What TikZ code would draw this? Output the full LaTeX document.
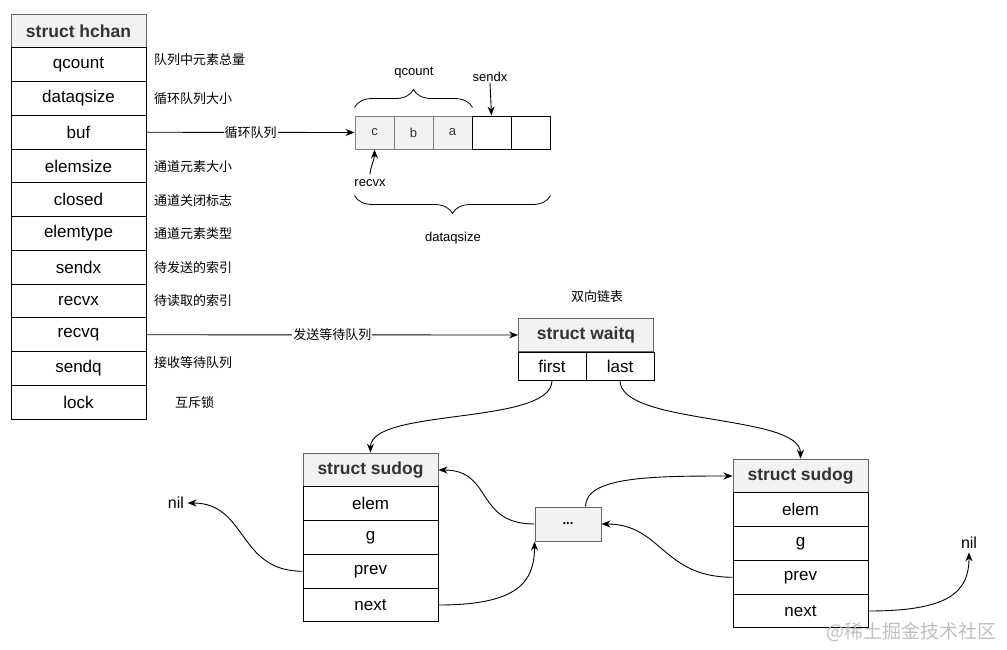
\documentclass[tikz,border=0pt]{standalone}
\usepackage{fontspec}
\setmainfont{Liberation Sans}
\newfontfamily\cjk{Noto Sans CJK SC}
\usetikzlibrary{arrows.meta, decorations.pathreplacing}

\tikzset{
	field/.style={draw, line width=1pt, minimum width=135, minimum height=33.75, inner sep=0, font=\fontsize{17}{20}\selectfont},
	head/.style={field, draw=black!60, fill=black!5, text=black!80, font=\fontsize{17.5}{20}\selectfont\bfseries},
	note/.style={anchor=west, inner sep=0, font=\cjk\fontsize{13}{15}\selectfont},
	lbl/.style={inner sep=1, font=\fontsize{13}{15}\selectfont},
	cell/.style={draw, line width=1pt, minimum width=39, minimum height=33, inner sep=0, font=\fontsize{13}{15}\selectfont},
	used/.style={cell, draw=black!50, fill=black!5, text=black!80},
	link/.style={line width=0.9pt, -{Stealth[length=9pt, width=7pt]}},
	brc/.style={line width=0.8pt, decorate, decoration={brace, amplitude=18}},
}

\begin{document}
\begin{tikzpicture}[x=1pt, y=-1pt]
		\useasboundingbox (0,0) rectangle (1007,649);

		% hchan
		\node[head] (hchan) at (78.5, 31) {struct hchan};
		\node[field] (qcount) at (78.5, 64.75) {qcount};
		\node[field] (dataqsize) at (78.5, 98.5) {dataqsize};
		\node[field] (buf) at (78.5, 132.25) {buf};
		\node[field] (elemsize) at (78.5, 166) {elemsize};
		\node[field] (closed) at (78.5, 199.75) {closed};
		\node[field] (elemtype) at (78.5, 233.5) {elemtype};
		\node[field] (sendx) at (78.5, 267.25) {sendx};
		\node[field] (recvx) at (78.5, 301) {recvx};
		\node[field] (recvq) at (78.5, 334.75) {recvq};
		\node[field] (sendq) at (78.5, 368.5) {sendq};
		\node[field] (lock) at (78.5, 402.25) {lock};

		\node[note] (n1) at (154, 60) {队列中元素总量};
		\node[note] (n2) at (154, 99) {循环队列大小};
		\node[note] (n3) at (154, 167) {通道元素大小};
		\node[note] (n4) at (154, 201) {通道关闭标志};
		\node[note] (n5) at (154, 234) {通道元素类型};
		\node[note] (n6) at (154, 268) {待发送的索引};
		\node[note] (n7) at (154, 301) {待读取的索引};
		\node[note] (n8) at (154, 363) {接收等待队列};
		\node[note] (n9) at (175, 403) {互斥锁};

		% buffer
		\node[used] (c1) at (374.5, 132.5) {c};
		\node[used] (c2) at (413.5, 132.5) {b};
		\node[used] (c3) at (452.5, 132.5) {a};
		\node[cell] (c4) at (491.5, 132.5) {};
		\node[cell] (c5) at (530.5, 132.5) {};

		\draw[link] (buf.east) -- node[fill=white, inner sep=1, font=\cjk\fontsize{13}{15}\selectfont] (bufl) {循环队列} (c1.west);

		\draw[brc] ([yshift=8]c1.north west) -- ([yshift=8]c3.north east);
		\node[lbl] (qcountl) at (414, 73) {qcount};
		\node[lbl] (sendxl) at (490, 77) {sendx};
		\draw[link] (sendxl.south) -- (c4.north);
		\node[lbl] (recvxl) at (370, 183) {recvx};
		\draw[link, shorten <=4pt] (recvxl.north) .. controls +(0,-10) and +(0,10) .. (c1.south);
		\draw[brc] ([yshift=-46]c5.south east) -- ([yshift=-46]c1.south west);
		\node[lbl] (dataqsizel) at (453, 238) {dataqsize};

		% waitq
		\node[inner sep=1, font=\cjk\fontsize{13}{15}\selectfont] (dll) at (597, 297) {双向链表};
		\node[head] (waitq) at (586, 335) {struct waitq};
		\node[field, minimum width=68, minimum height=28] (first) at (552, 366) {first};
		\node[field, minimum width=68, minimum height=28] (last) at (620, 366) {last};

		\draw[link] (recvq.east) -- node[fill=white, inner sep=1, font=\cjk\fontsize{13}{15}\selectfont] (recvql) {发送等待队列} (waitq.west);

		% sudog
		\node[head] (sd1) at (370.5, 470) {struct sudog};
		\node[field] (elem1) at (370.5, 503.75) {elem};
		\node[field] (g1) at (370.5, 537.5) {g};
		\node[field] (prev1) at (370.5, 571.25) {prev};
		\node[field] (next1) at (370.5, 605) {next};

		\node[head] (sd2) at (800.5, 476) {struct sudog};
		\node[field] (elem2) at (800.5, 509.75) {elem};
		\node[field] (g2) at (800.5, 543.5) {g};
		\node[field] (prev2) at (800.5, 577.25) {prev};
		\node[field] (next2) at (800.5, 611) {next};

		\node[draw=black!60, fill=black!5, line width=1pt, minimum width=66, minimum height=34, font=\fontsize{13}{15}\selectfont\bfseries] (dots) at (568, 524) {...};

		\node[font=\fontsize{16}{18}\selectfont] (nil1) at (176, 503) {nil};
		\node[font=\fontsize{16}{18}\selectfont] (nil2) at (969, 543) {nil};

		\draw[link] (first.south) .. controls +(0,45) and +(0,-45) .. (sd1.north);
		\draw[link] (last.south) .. controls +(0,45) and +(0,-45) .. (sd2.north);
		\draw[link] (prev1.west) .. controls +(-65,0) and +(60,0) .. (nil1.east);
		\draw[link] (next1.east) .. controls +(80,0) and +(0,40) .. (dots.south west);
		\draw[link] (dots.west) .. controls +(-60,0) and +(55,0) .. (sd1.east);
		\draw[link] (dots.45) .. controls +(0,-30) and +(-80,0) .. (sd2.west);
		\draw[link] (prev2.west) .. controls +(-70,0) and +(60,0) .. (dots.east);
		\draw[link] (next2.east) .. controls +(80,0) and +(0,40) .. (nil2.south);

		\node[anchor=east, text=black!25, font=\cjk\fontsize{19}{21}\selectfont] (wm) at (1000, 632) {@稀土掘金技术社区};
	\end{tikzpicture}
\end{document}
